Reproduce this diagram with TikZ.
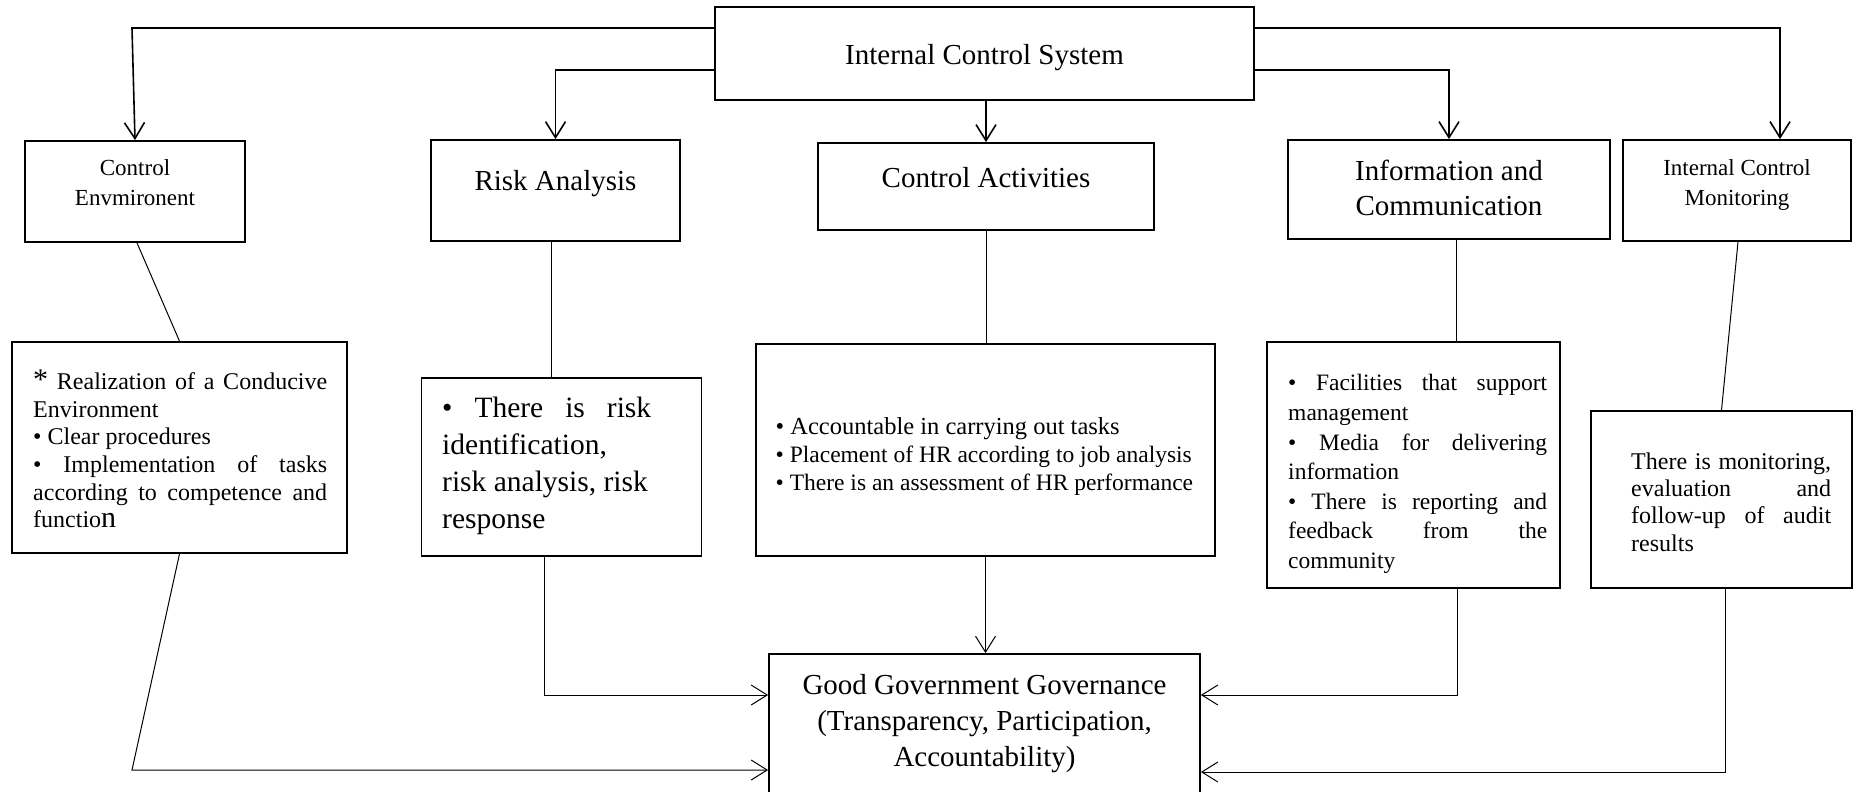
\documentclass[tikz,border=0pt]{standalone}
\usepackage{fontspec}
\setmainfont{Liberation Serif}
\usetikzlibrary{arrows.meta}
\setlength{\parindent}{0pt}
\tolerance=10000 \hbadness=10000 \hyphenpenalty=10000 \exhyphenpenalty=10000
\newcommand{\fsz}[2]{\fontsize{#1pt}{#2pt}\selectfont}
\begin{document}
\begin{tikzpicture}[x=1pt,y=-1pt,
  box/.style={draw, line width=1.8pt, inner sep=0pt},
  lbl/.style={inner sep=0pt, align=center},
  big/.style={font=\fsz{29}{35}},
  small/.style={font=\fsz{23}{30}},
  body/.style={inner sep=0pt, align=justify, anchor=west},
  conn/.style={line width=1.6pt},
  thin/.style={line width=1pt},
  tip/.style={-{Straight Barb[length=16pt,width=20pt]}}]
\useasboundingbox (0,0) rectangle (1857,792);
\clip (0,0) rectangle (1857,792);
\fill[white] (0,0) rectangle (1857,792);

% boxes
\node[box, minimum width=539pt, minimum height=93pt] (ics) at (984.5,53.5) {};
\node[box, minimum width=220pt, minimum height=101pt] (ce) at (135,191.5) {};
\node[box, minimum width=249pt, minimum height=101pt] (ra) at (555.5,190.5) {};
\node[box, minimum width=336pt, minimum height=87pt] (ca) at (986,186.5) {};
\node[box, minimum width=322pt, minimum height=99pt] (ic) at (1449,189.5) {};
\node[box, minimum width=228pt, minimum height=101pt] (icm) at (1737,190.5) {};
\node[box, minimum width=335pt, minimum height=211pt] (ced) at (179.5,447.5) {};
\node[box, minimum width=280pt, minimum height=178pt] (rad) at (561.5,467) {};
\node[box, minimum width=459pt, minimum height=212pt] (cad) at (985.5,450) {};
\node[box, minimum width=293pt, minimum height=246pt] (icd) at (1413.5,465) {};
\node[box, minimum width=261pt, minimum height=177pt] (icmd) at (1721.5,499.5) {};
\node[box, minimum width=431pt, minimum height=160pt] (gg) at (984.5,734) {};

% headings
\node[lbl, big] (ics-t) at (984.5,58) {Internal Control System};
\node[lbl, small] (ce-t) at (135,183) {Control\\Envmironent};
\node[lbl, big] (ra-t) at (555.5,184) {Risk Analysis};
\node[lbl, big] (ca-t) at (986,177.5) {Control Activities};
\node[lbl, big] (ic-t) at (1449,188) {Information and\\Communication};
\node[lbl, small] (icm-t) at (1737,185) {Internal Control\\Monitoring};

% details
\node[body, text width=294pt, font=\fsz{24}{27.7}] (ced-t) at (33,449)
  {{\fsz{30}{27.7}*} Realization of a Conducive\linebreak Environment\\ • Clear procedures\\ • Implementation of tasks\linebreak according to competence and\linebreak functio{\fsz{30}{27.7}n}};
\node[body, text width=209pt, font=\fsz{29.5}{37}] (rad-t) at (442,466)
  {• There is risk\linebreak identification,\\ risk analysis, risk\\ response};
\node[inner sep=0pt, align=left, anchor=west, font=\fsz{23.5}{28}] (cad-t) at (775.5,456)
  {{\fsz{24.5}{28}• Accountable in carrying out tasks}\\ • Placement of HR according to job analysis\\ • There is an assessment of HR performance};
\node[body, text width=259pt, font=\fsz{23.5}{29.6}] (icd-t) at (1288,474)
  {• Facilities that support\linebreak management\\ • Media for delivering\linebreak information\\ • There is reporting and\linebreak feedback from the\linebreak community};
\node[body, text width=200pt, font=\fsz{24}{27.4}] (icmd-t) at (1631,502)
  {There is monitoring,\linebreak evaluation and\linebreak follow-up of audit\linebreak results};
\node[lbl, font=\fsz{29}{36}] (gg-t) at (984.5,723.5)
  {Good Government Governance\\(Transparency, Participation,\\Accountability)};

% top connectors
\coordinate (k1) at (132,28);
\coordinate (k2) at (555.5,70);
\coordinate (k4) at (1449,70);
\coordinate (k5) at (1780,28);
\draw[conn, tip] (ics.west |- k1) -- (k1) -- (ce.north);
\draw[conn, tip] (ics.west |- k2) -- (k2) -- (ra.north);
\draw[conn, tip] (ics.south -| ca.north) -- (ca.north);
\draw[conn, tip] (ics.east |- k4) -- (k4) -- (ic.north);
\draw[conn, tip] (ics.east |- k5) -- (k5) -- (k5 |- icm.north);

% middle links
\coordinate (xr) at (551,0);
\coordinate (xi) at (1456,0);
\draw[thin] ([xshift=2pt]ce.south) -- (ced.north);
\draw[thin] (xr |- ra.south) -- (xr |- rad.north);
\draw[thin] (ca.south) -- (ca.south |- cad.north);
\draw[thin] (xi |- ic.south) -- (xi |- icd.north);
\draw[thin] ([xshift=1pt]icm.south) -- (icmd.north);

% bottom connectors
\coordinate (b1) at (132,770);
\coordinate (b2) at (544,695);
\coordinate (b4) at (1457,695);
\coordinate (b5) at (1725,772);
\draw[thin, tip] (ced.south) -- (b1) -- (gg.west |- b1);
\draw[thin, tip] (b2 |- rad.south) -- (b2) -- (gg.west |- b2);
\draw[thin, tip] (cad.south) -- (cad.south |- gg.north);
\draw[thin, tip] (b4 |- icd.south) -- (b4) -- (gg.east |- b4);
\draw[thin, tip] (b5 |- icmd.south) -- (b5) -- (gg.east |- b5);
\end{tikzpicture}
\end{document}
